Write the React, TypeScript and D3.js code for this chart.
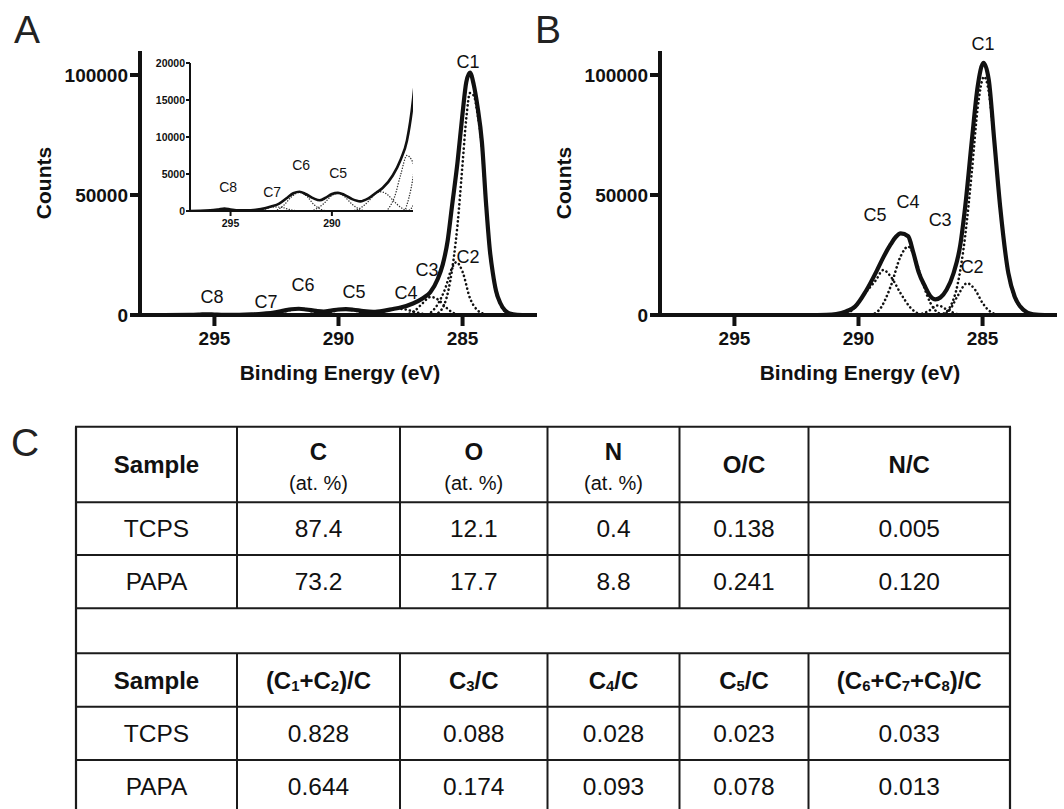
import React from 'react';
import * as d3 from 'd3';

type Pt = [number, number];

// axis ticks
const evTicks = [295, 290, 285];
const countTicks = [0, 50000, 100000];
const insetEvTicks = [295, 290];
const insetCountTicks = [0, 5000, 10000, 15000, 20000];

// panel A (TCPS) - envelope and fitted components [eV, counts]
const envelopeA: Pt[] = [
  [298, 0], [297, 0], [296, 80], [295.6, 200], [295.3, 320], [295, 200], [294.6, 80],
  [294, 100], [293.5, 250], [293, 600], [292.6, 1000], [292.2, 1800], [291.9, 2400],
  [291.6, 2600], [291.3, 2300], [290.9, 1700], [290.6, 1450], [290.3, 1800], [290, 2300],
  [289.7, 2450], [289.4, 2200], [289, 1600], [288.6, 1300], [288.2, 1700], [287.8, 2500],
  [287.5, 3100], [287, 4800], [286.6, 7000], [286.3, 9500], [286, 15000], [285.8, 21000],
  [285.6, 31000], [285.43, 45000], [285.2, 64000], [285, 84000], [284.85, 97000],
  [284.7, 101000], [284.55, 96000], [284.4, 87000], [284.22, 72000], [284.05, 46000],
  [283.9, 27000], [283.78, 17500], [283.65, 10000], [283.48, 5000], [283.3, 2000],
  [283.1, 600], [282.8, 100], [282.4, 0], [282, 0],
];
const c1A: Pt[] = [
  [286.3, 0], [286.1, 300], [285.8, 3000], [285.5, 14000], [285.2, 38000], [285, 63000],
  [284.85, 82000], [284.7, 92500], [284.55, 91500], [284.4, 84000], [284.22, 70000],
  [284.05, 45000], [283.9, 26500], [283.78, 17000], [283.65, 9500], [283.48, 4500],
  [283.3, 1600], [283.1, 400], [282.8, 0],
];
const c2A: Pt[] = [
  [286.4, 0], [286, 4500], [285.7, 11000], [285.45, 19000], [285.25, 22000], [285, 18000],
  [284.7, 7000], [284.4, 2000], [284.1, 400], [283.8, 0],
];
const c3A: Pt[] = [
  [287.3, 0], [286.9, 2000], [286.6, 5000], [286.3, 7500], [286, 6500], [285.7, 3500],
  [285.4, 1000], [285.1, 0],
];
const c4A: Pt[] = [
  [289, 0], [288.6, 400], [288.2, 1300], [287.9, 2200], [287.6, 2600], [287.3, 2300],
  [286.9, 1200], [286.5, 300], [286.2, 0],
];
const c5A: Pt[] = [
  [291, 0], [290.7, 400], [290.4, 1000], [290, 2100], [289.7, 2400], [289.4, 2000],
  [289, 900], [288.6, 200], [288.3, 0],
];
const c6A: Pt[] = [
  [292.8, 0], [292.4, 700], [292, 1900], [291.6, 2500], [291.2, 1900], [290.9, 900],
  [290.6, 300], [290.3, 0],
];
const c7A: Pt[] = [[293.8, 0], [293.3, 250], [292.9, 550], [292.5, 500], [292.1, 200], [291.7, 0]];
const c8A: Pt[] = [[296, 0], [295.6, 150], [295.3, 300], [295, 150], [294.6, 0]];

// panel B (PAPA)
const envelopeB: Pt[] = [
  [298, 0], [292, 0], [291.3, 100], [290.9, 400], [290.5, 1500], [290.14, 3500],
  [289.7, 10000], [289.26, 18500], [289, 24000], [288.7, 29500], [288.5, 32500],
  [288.3, 34000], [288, 32800], [287.79, 26000], [287.58, 18000], [287.3, 11500],
  [287.1, 7800], [286.9, 6500], [286.7, 7300], [286.45, 10500], [286.17, 17400],
  [285.9, 29000], [285.7, 45100], [285.43, 72900], [285.2, 95000], [284.96, 105100],
  [284.75, 98000], [284.53, 72900], [284.29, 45100], [283.96, 17400], [283.7, 7500],
  [283.48, 3500], [283.2, 1000], [282.96, 300], [282.5, 0], [282, 0],
];
const c1B: Pt[] = [
  [286.9, 0], [286.6, 500], [286.3, 3500], [286, 13000], [285.7, 33000], [285.43, 60000],
  [285.2, 86000], [284.94, 99300], [284.75, 93000], [284.53, 72000], [284.29, 44500],
  [283.96, 17000], [283.7, 7000], [283.48, 3300], [283.2, 900], [282.9, 0],
];
const c2B: Pt[] = [
  [286.6, 0], [286.3, 2500], [286, 8000], [285.63, 13200], [285.3, 10500], [285, 5000],
  [284.7, 1500], [284.4, 200], [284.2, 0],
];
const c3B: Pt[] = [[287.6, 0], [287.2, 1500], [286.8, 4000], [286.4, 2000], [286, 300], [285.8, 0]];
const c4B: Pt[] = [
  [289.5, 0], [289.1, 3000], [288.7, 12000], [288.3, 24500], [288, 28500], [287.7, 23000],
  [287.4, 13000], [287.1, 5000], [286.8, 1000], [286.5, 0],
];
const c5B: Pt[] = [
  [290.6, 0], [290.2, 2500], [289.7, 9500], [289.3, 14500], [289, 18750], [288.7, 16000],
  [288.3, 9000], [287.9, 3000], [287.5, 300], [287.2, 0],
];

// peak names, anchored in data units [name, eV, counts]
const peakLabelsA: [string, number, number][] = [
  ['C1', 284.78, 105400], ['C2', 284.78, 24200], ['C3', 286.43, 18750], ['C4', 287.28, 9200],
  ['C5', 289.37, 9600], ['C6', 291.43, 12500], ['C7', 292.92, 5400], ['C8', 295.1, 7500],
];
const insetLabelsA: [string, number, number][] = [
  ['C8', 295.12, 3240], ['C7', 292.95, 2570], ['C6', 291.52, 6220], ['C5', 289.69, 5140],
];
const peakLabelsB: [string, number, number][] = [
  ['C1', 284.98, 112900], ['C2', 285.42, 20000], ['C3', 286.71, 39600],
  ['C4', 288.0, 47100], ['C5', 289.33, 41700],
];

// table C
const compHeads = ['Sample', 'C', 'O', 'N', 'O/C', 'N/C'];
const compUnits = ['', '(at. %)', '(at. %)', '(at. %)', '', ''];
const samples = ['TCPS', 'PAPA'];
const compValues = [
  ['87.4', '12.1', '0.4', '0.138', '0.005'],
  ['73.2', '17.7', '8.8', '0.241', '0.120'],
];
const ratioHeads = ['Sample', '(C_1+C_2)/C', 'C_3/C', 'C_4/C', 'C_5/C', '(C_6+C_7+C_8)/C'];
const ratioValues = [
  ['0.828', '0.088', '0.028', '0.023', '0.033'],
  ['0.644', '0.174', '0.093', '0.078', '0.013'],
];

const FONT = "'Liberation Sans', Arial, Helvetica, sans-serif";
const INK = '#111';

function Spectrum({ left, envelope, parts, labels }: {
  left: number; envelope: Pt[]; parts: Pt[][]; labels: [string, number, number][];
}) {
  const x = d3.scaleLinear().domain([298, 282]).range([left, left + 397]);
  const y = d3.scaleLinear().domain([0, 110000]).range([315, 51]);
  const line = d3.line<Pt>().x(d => x(d[0])).y(d => y(d[1])).curve(d3.curveMonotoneX);

  return (
    <g>
      {parts.map((p, i) => (
        <path key={i} d={line(p) || ''} fill="none" stroke={INK} strokeWidth={2.6}
          strokeLinecap="round" strokeDasharray="0.1 4.2" />
      ))}
      <path d={line(envelope) || ''} fill="none" stroke={INK} strokeWidth={4.2} strokeLinejoin="round" />

      {/* axes */}
      <line x1={left} x2={left} y1={y(110000)} y2={y(0) + 2} stroke={INK} strokeWidth={4} />
      <line x1={left} x2={x(282)} y1={y(0)} y2={y(0)} stroke={INK} strokeWidth={4} />
      {countTicks.map(t => (
        <g key={t}>
          <line x1={left - 10} x2={left} y1={y(t)} y2={y(t)} stroke={INK} strokeWidth={4} />
          <text x={left - 12} y={y(t)} textAnchor="end" dominantBaseline="central"
            fontSize={19} fontWeight="bold" fill={INK}>{t}</text>
        </g>
      ))}
      {evTicks.map(t => (
        <g key={t}>
          <line x1={x(t)} x2={x(t)} y1={y(0)} y2={y(0) + 11} stroke={INK} strokeWidth={4} />
          <text x={x(t)} y={338} textAnchor="middle" dominantBaseline="central"
            fontSize={19} fontWeight="bold" fill={INK}>{t}</text>
        </g>
      ))}
      <text transform={`translate(${left - 97},183) rotate(-90)`} textAnchor="middle"
        dominantBaseline="central" fontSize={21} fontWeight="bold" fill={INK}>Counts</text>
      <text x={left + 200} y={372} textAnchor="middle" dominantBaseline="central"
        fontSize={21} fontWeight="bold" fill={INK}>Binding Energy (eV)</text>

      {labels.map(([name, ev, c]) => (
        <text key={name} x={x(ev)} y={y(c)} textAnchor="middle" dominantBaseline="central"
          fontSize={18} fill={INK}>{name}</text>
      ))}
    </g>
  );
}

function Inset({ envelope, parts, labels }: {
  envelope: Pt[]; parts: Pt[][]; labels: [string, number, number][];
}) {
  const x = d3.scaleLinear().domain([297, 286]).range([190, 413]);
  const y = d3.scaleLinear().domain([0, 20000]).range([211, 63]);
  const line = d3.line<Pt>().x(d => x(d[0])).y(d => y(d[1])).curve(d3.curveMonotoneX);

  return (
    <g>
      <defs>
        <clipPath id="inset-clip">
          <rect x={190} y={40} width={223} height={172} />
        </clipPath>
      </defs>
      <g clipPath="url(#inset-clip)">
        {parts.map((p, i) => (
          <path key={i} d={line(p) || ''} fill="none" stroke="#333" strokeWidth={1.4}
            strokeLinecap="round" strokeDasharray="0.1 2.6" />
        ))}
        <path d={line(envelope) || ''} fill="none" stroke={INK} strokeWidth={2.6} strokeLinejoin="round" />
      </g>
      <line x1={190} x2={190} y1={y(20000)} y2={y(0) + 1} stroke={INK} strokeWidth={2} />
      <line x1={190} x2={413} y1={y(0)} y2={y(0)} stroke={INK} strokeWidth={2} />
      {insetCountTicks.map(t => (
        <g key={t}>
          <line x1={186} x2={190} y1={y(t)} y2={y(t)} stroke={INK} strokeWidth={2} />
          <text x={185} y={y(t)} textAnchor="end" dominantBaseline="central"
            fontSize={10.5} fontWeight="bold" fill={INK}>{t}</text>
        </g>
      ))}
      {insetEvTicks.map(t => (
        <g key={t}>
          <line x1={x(t)} x2={x(t)} y1={y(0)} y2={y(0) + 5} stroke={INK} strokeWidth={2} />
          <text x={x(t)} y={223} textAnchor="middle" dominantBaseline="central"
            fontSize={10.5} fontWeight="bold" fill={INK}>{t}</text>
        </g>
      ))}
      {labels.map(([name, ev, c]) => (
        <text key={name} x={x(ev)} y={y(c)} textAnchor="middle" dominantBaseline="central"
          fontSize={14} fill={INK}>{name}</text>
      ))}
    </g>
  );
}

function Rich({ label, size }: { label: string; size: number }) {
  const parts = label.split(/(_\d)/).filter(s => s !== '');
  let down = false;
  return (
    <>
      {parts.map((p, i) => {
        if (p.startsWith('_')) {
          down = true;
          return <tspan key={i} dy={6} fontSize={size * 0.62}>{p.slice(1)}</tspan>;
        }
        const dy = down ? -6 : 0;
        down = false;
        return <tspan key={i} dy={dy}>{p}</tspan>;
      })}
    </>
  );
}

function XpsTable() {
  const cols = [76, 237, 400, 547.5, 679.5, 808.5, 1010];
  const rows = [426.7, 502.3, 555, 608.3, 653.3, 706.7, 760, 813.3];
  const cx = (i: number) => (cols[i] + cols[i + 1]) / 2;
  const cy = (i: number) => (rows[i] + rows[i + 1]) / 2;
  const stroke = '#1b1b1b';

  return (
    <g>
      {rows.map((r, i) => (
        <line key={'h' + i} x1={cols[0] - 1} x2={cols[6] + 1} y1={r} y2={r} stroke={stroke} strokeWidth={2} />
      ))}
      <line x1={cols[0]} x2={cols[0]} y1={rows[0]} y2={rows[7]} stroke={stroke} strokeWidth={2.2} />
      <line x1={cols[6]} x2={cols[6]} y1={rows[0]} y2={rows[7]} stroke={stroke} strokeWidth={2.2} />
      {cols.slice(1, 6).map((c, i) => (
        <g key={'v' + i}>
          <line x1={c} x2={c} y1={rows[0]} y2={rows[3]} stroke={stroke} strokeWidth={2} />
          <line x1={c} x2={c} y1={rows[4]} y2={rows[7]} stroke={stroke} strokeWidth={2} />
        </g>
      ))}

      {compHeads.map((h, i) => compUnits[i] ? (
        <g key={h}>
          <text x={cx(i)} y={451.5} textAnchor="middle" dominantBaseline="central"
            fontSize={24} fontWeight="bold" fill={INK}>{h}</text>
          <text x={cx(i)} y={483} textAnchor="middle" dominantBaseline="central"
            fontSize={20} fill={INK}>{compUnits[i]}</text>
        </g>
      ) : (
        <text key={h} x={cx(i)} y={cy(0)} textAnchor="middle" dominantBaseline="central"
          fontSize={24} fontWeight="bold" fill={INK}>{h}</text>
      ))}
      {samples.map((s, r) => (
        <g key={s}>
          <text x={cx(0)} y={cy(1 + r)} textAnchor="middle" dominantBaseline="central"
            fontSize={24.5} fill={INK}>{s}</text>
          {compValues[r].map((v, i) => (
            <text key={i} x={cx(i + 1)} y={cy(1 + r)} textAnchor="middle" dominantBaseline="central"
              fontSize={24.5} fill={INK}>{v}</text>
          ))}
        </g>
      ))}

      {ratioHeads.map((h, i) => (
        <text key={h} x={cx(i)} y={cy(4)} textAnchor="middle" dominantBaseline="central"
          fontSize={24} fontWeight="bold" fill={INK}><Rich label={h} size={24} /></text>
      ))}
      {samples.map((s, r) => (
        <g key={'r' + s}>
          <text x={cx(0)} y={cy(5 + r)} textAnchor="middle" dominantBaseline="central"
            fontSize={24.5} fill={INK}>{s}</text>
          {ratioValues[r].map((v, i) => (
            <text key={i} x={cx(i + 1)} y={cy(5 + r)} textAnchor="middle" dominantBaseline="central"
              fontSize={24.5} fill={INK}>{v}</text>
          ))}
        </g>
      ))}
    </g>
  );
}

export default function App() {
  return (
    <div style={{ position: 'absolute', left: 0, top: 0, width: 1064, height: 809, overflow: 'hidden', background: '#fff' }}>
      <svg width={1064} height={809} style={{ display: 'block' }} fontFamily={FONT}>
        <text x={14} y={43} fontSize={39} fill="#222">A</text>
        <text x={535} y={43} fontSize={39} fill="#222">B</text>
        <text x={11} y={456} fontSize={39} fill="#222">C</text>

        <Spectrum left={140} envelope={envelopeA}
          parts={[c1A, c2A, c3A, c4A, c5A, c6A, c7A, c8A]} labels={peakLabelsA} />
        <Inset envelope={envelopeA}
          parts={[c1A, c2A, c3A, c4A, c5A, c6A, c7A, c8A]} labels={insetLabelsA} />
        <Spectrum left={660} envelope={envelopeB}
          parts={[c1B, c2B, c3B, c4B, c5B]} labels={peakLabelsB} />

        <XpsTable />
      </svg>
    </div>
  );
}
